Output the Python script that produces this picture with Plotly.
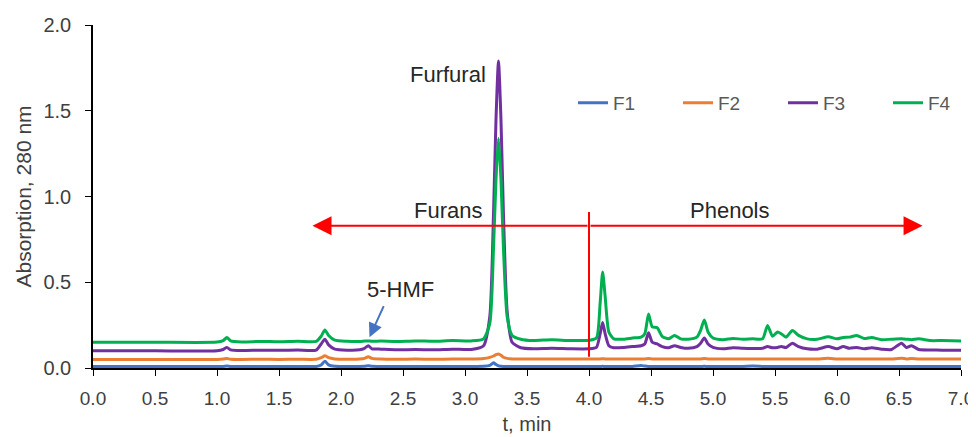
import plotly.graph_objects as go

# ---- data ----
t_min = [0.00, 0.50, 1.00, 1.05, 1.08, 1.11, 1.20, 1.35, 1.50, 1.65,
         1.80, 1.84, 1.87, 1.90, 1.95, 2.05, 2.15, 2.19, 2.22, 2.25,
         2.32, 2.45, 2.60, 2.75, 2.90, 3.05, 3.15, 3.20, 3.23, 3.25,
         3.27, 3.29, 3.31, 3.34, 3.38, 3.45, 3.55, 3.70, 3.85, 4.00,
         4.06, 4.09, 4.11, 4.13, 4.16, 4.20, 4.28, 4.35, 4.42, 4.45,
         4.48, 4.51, 4.55, 4.59, 4.64, 4.69, 4.74, 4.80, 4.87, 4.90,
         4.93, 4.96, 5.00, 5.08, 5.16, 5.24, 5.32, 5.40, 5.44, 5.48,
         5.52, 5.55, 5.59, 5.64, 5.69, 5.76, 5.84, 5.93, 6.00, 6.05,
         6.10, 6.16, 6.22, 6.28, 6.36, 6.44, 6.52, 6.56, 6.60, 6.66,
         6.75, 6.85, 7.00]

F1 = [0.009, 0.009, 0.009, 0.009, 0.011, 0.009, 0.009, 0.009, 0.009, 0.009,
      0.009, 0.018, 0.040, 0.018, 0.010, 0.009, 0.009, 0.010, 0.013, 0.010,
      0.009, 0.009, 0.009, 0.009, 0.009, 0.009, 0.010, 0.015, 0.030, 0.020,
      0.012, 0.010, 0.009, 0.009, 0.009, 0.009, 0.009, 0.009, 0.009, 0.009,
      0.009, 0.009, 0.010, 0.009, 0.009, 0.009, 0.009, 0.009, 0.015, 0.011,
      0.009, 0.009, 0.009, 0.009, 0.009, 0.009, 0.009, 0.009, 0.009, 0.009,
      0.010, 0.009, 0.009, 0.009, 0.009, 0.009, 0.011, 0.009, 0.009, 0.009,
      0.009, 0.009, 0.009, 0.009, 0.009, 0.009, 0.009, 0.009, 0.009, 0.009,
      0.009, 0.009, 0.009, 0.009, 0.009, 0.009, 0.009, 0.009, 0.009, 0.009,
      0.009, 0.009, 0.009]

F2 = [0.050, 0.050, 0.050, 0.052, 0.056, 0.051, 0.050, 0.051, 0.050, 0.051,
      0.051, 0.060, 0.072, 0.060, 0.053, 0.051, 0.052, 0.056, 0.066, 0.056,
      0.052, 0.051, 0.052, 0.051, 0.052, 0.052, 0.055, 0.062, 0.070, 0.078,
      0.082, 0.075, 0.063, 0.056, 0.053, 0.052, 0.052, 0.052, 0.052, 0.052,
      0.052, 0.053, 0.054, 0.053, 0.052, 0.052, 0.052, 0.052, 0.053, 0.053,
      0.055, 0.053, 0.053, 0.052, 0.052, 0.052, 0.052, 0.052, 0.052, 0.053,
      0.055, 0.053, 0.052, 0.052, 0.052, 0.052, 0.052, 0.052, 0.053, 0.052,
      0.052, 0.052, 0.052, 0.052, 0.052, 0.052, 0.052, 0.057, 0.052, 0.052,
      0.052, 0.053, 0.052, 0.052, 0.052, 0.052, 0.057, 0.053, 0.055, 0.052,
      0.052, 0.052, 0.052]

F3 = [0.100, 0.100, 0.101, 0.108, 0.120, 0.106, 0.102, 0.104, 0.103, 0.105,
      0.104, 0.140, 0.168, 0.135, 0.110, 0.104, 0.106, 0.115, 0.130, 0.112,
      0.110, 0.106, 0.108, 0.106, 0.110, 0.108, 0.130, 0.300, 0.900, 1.450,
      1.790, 1.450, 0.900, 0.330, 0.150, 0.118, 0.112, 0.115, 0.112, 0.112,
      0.120, 0.200, 0.265, 0.200, 0.130, 0.118, 0.120, 0.125, 0.130, 0.140,
      0.205, 0.150, 0.140, 0.125, 0.118, 0.130, 0.120, 0.115, 0.125, 0.145,
      0.175, 0.140, 0.120, 0.112, 0.118, 0.115, 0.114, 0.115, 0.125, 0.118,
      0.120, 0.125, 0.120, 0.145, 0.125, 0.112, 0.110, 0.125, 0.112, 0.125,
      0.115, 0.120, 0.112, 0.118, 0.110, 0.108, 0.145, 0.120, 0.130, 0.108,
      0.105, 0.104, 0.103]

F4 = [0.150, 0.150, 0.151, 0.160, 0.178, 0.158, 0.152, 0.155, 0.153, 0.156,
      0.155, 0.185, 0.222, 0.190, 0.162, 0.156, 0.155, 0.157, 0.158, 0.156,
      0.157, 0.155, 0.158, 0.156, 0.160, 0.158, 0.170, 0.260, 0.700, 1.100,
      1.340, 1.100, 0.700, 0.300, 0.190, 0.168, 0.160, 0.165, 0.160, 0.162,
      0.175, 0.380, 0.560, 0.420, 0.210, 0.170, 0.168, 0.175, 0.180, 0.200,
      0.315, 0.240, 0.235, 0.185, 0.170, 0.190, 0.170, 0.168, 0.180, 0.220,
      0.280, 0.210, 0.175, 0.165, 0.172, 0.168, 0.170, 0.170, 0.248, 0.185,
      0.210, 0.200, 0.180, 0.218, 0.190, 0.170, 0.168, 0.182, 0.170, 0.178,
      0.180, 0.190, 0.172, 0.178, 0.165, 0.168, 0.170, 0.168, 0.165, 0.170,
      0.160, 0.160, 0.158]

series_names = ["F1", "F2", "F3", "F4"]
series_values = [F1, F2, F3, F4]
series_colors = ["#4472C4", "#ED7D31", "#7030A0", "#00B050"]

x_ticks = [0.0, 0.5, 1.0, 1.5, 2.0, 2.5, 3.0, 3.5, 4.0, 4.5, 5.0, 5.5, 6.0, 6.5, 7.0]
y_ticks = [0.0, 0.5, 1.0, 1.5, 2.0]

FONT = "Liberation Sans, Arial, sans-serif"

fig = go.Figure()
for name, vals, col in zip(series_names, series_values, series_colors):
    fig.add_trace(go.Scatter(x=t_min, y=vals, name=name, mode="lines",
                             line=dict(color=col, width=3, shape="spline", smoothing=0.6)))

# red range arrows
for x_end in (1.77, 6.69):
    fig.add_annotation(x=x_end, y=0.83, ax=4.0, ay=0.83, xref="x", yref="y",
                       axref="x", ayref="y", text="", showarrow=True,
                       arrowhead=2, arrowsize=1.9, arrowwidth=2, arrowcolor="#FF0000")
fig.add_shape(type="line", x0=4.0, x1=4.0, y0=0.065, y1=0.91, xref="x", yref="y",
              line=dict(color="#FF0000", width=2))

# blue 5-HMF arrow
fig.add_annotation(x=2.23, y=0.18, ax=2.35, ay=0.37, xref="x", yref="y",
                   axref="x", ayref="y", text="", showarrow=True,
                   arrowhead=2, arrowsize=1.4, arrowwidth=2, arrowcolor="#4472C4")

labels = [("Furfural", 2.86, 1.71), ("Furans", 2.86, 0.92),
          ("Phenols", 5.14, 0.92), ("5-HMF", 2.48, 0.46)]
for txt, lx, ly in labels:
    fig.add_annotation(x=lx, y=ly, text=txt, showarrow=False,
                       font=dict(family=FONT, size=22, color="#262626"))

# the page body adds an 8px offset, so the figure is sized/margined to compensate
fig.update_layout(
    width=968, height=429,
    margin=dict(l=85, r=15, t=17, b=69, autoexpand=False),
    plot_bgcolor="white", paper_bgcolor="white",
    showlegend=True,
    legend=dict(orientation="h", x=0.553, y=0.773, xanchor="left", yanchor="middle",
                entrywidth=60, entrywidthmode="pixels",
                font=dict(family=FONT, size=19, color="#595959"),
                bgcolor="rgba(0,0,0,0)"),
)
fig.update_xaxes(range=[0, 7], tickvals=x_ticks, ticktext=[f"{v:.1f}" for v in x_ticks],
                 showline=True, linecolor="black", linewidth=1.5,
                 ticks="outside", ticklen=6, tickcolor="black", showgrid=False, zeroline=False,
                 ticklabelstandoff=6,
                 tickfont=dict(family=FONT, size=19, color="#404040"),
                 title=dict(text="t, min", font=dict(family=FONT, size=20, color="#404040"),
                            standoff=9))
fig.update_yaxes(range=[0, 2], tickvals=y_ticks, ticktext=[f"{v:.1f}" for v in y_ticks],
                 showline=True, linecolor="black", linewidth=1.5,
                 ticks="outside", ticklen=6, tickcolor="black", showgrid=False, zeroline=False,
                 ticklabelstandoff=10,
                 tickfont=dict(family=FONT, size=20, color="#404040"),
                 title=dict(text="Absorption, 280 nm",
                            font=dict(family=FONT, size=21, color="#404040"), standoff=6))

fig.write_html("out.html")
